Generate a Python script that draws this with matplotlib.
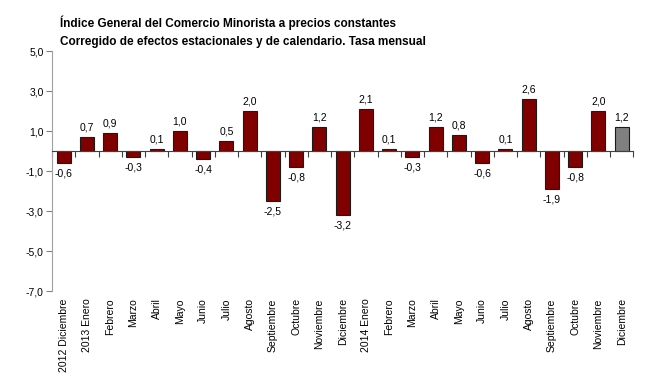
import matplotlib
matplotlib.use("Agg")
import matplotlib.pyplot as plt
import numpy as np

plt.rcParams['font.family'] = ['Liberation Sans', 'DejaVu Sans']

# Datos: tasa mensual, corregido de efectos estacionales y de calendario
meses = ["2012 Diciembre", "2013 Enero", "Febrero", "Marzo", "Abril", "Mayo",
         "Junio", "Julio", "Agosto", "Septiembre", "Octubre", "Noviembre",
         "Diciembre", "2014 Enero", "Febrero", "Marzo", "Abril", "Mayo",
         "Junio", "Julio", "Agosto", "Septiembre", "Octubre", "Noviembre",
         "Diciembre"]
tasa = [-0.6, 0.7, 0.9, -0.3, 0.1, 1.0, -0.4, 0.5, 2.0, -2.5, -0.8, 1.2,
        -3.2, 2.1, 0.1, -0.3, 1.2, 0.8, -0.6, 0.1, 2.6, -1.9, -0.8, 2.0, 1.2]
y_ticks = [5, 3, 1, -1, -3, -5, -7]

x = np.arange(len(meses))
colores = ['#800000'] * (len(meses) - 1) + ['#808080']

fig = plt.figure(figsize=(6.72, 3.78), dpi=100)
ax = fig.add_axes([0.0774, 0.230, 0.865, 0.635])

ax.bar(x, tasa, width=0.6, color=colores, edgecolor='#1a1a1a', linewidth=0.8)

# Etiquetas de valor
for xi, v in zip(x, tasa):
    txt = f"{v:.1f}".replace('.', ',')
    if v >= 0:
        ax.text(xi, v + 0.25, txt, ha='center', va='bottom', fontsize=7.5)
    else:
        ax.text(xi, v - 0.25, txt, ha='center', va='top', fontsize=7.5)

ax.set_xlim(-0.5, len(meses) - 0.5)
ax.set_ylim(-7, 5)
ax.set_yticks(y_ticks)
ax.set_yticklabels([f"{t:.1f}".replace('.', ',') for t in y_ticks], fontsize=7.5)

for s in ['top', 'right']:
    ax.spines[s].set_visible(False)
ax.spines['left'].set_color('#a0a0a0')
ax.spines['bottom'].set_position(('data', 0))
ax.spines['bottom'].set_color('#404040')
ax.tick_params(axis='y', length=4, color='#808080', width=0.8, pad=2)

# Marcas del eje X entre categorias, sin etiquetas sobre el cero
ax.set_xticks(x)
ax.set_xticklabels([])
ax.tick_params(axis='x', which='major', length=0)
ax.set_xticks(np.arange(len(meses) + 1) - 0.5, minor=True)
ax.tick_params(axis='x', which='minor', length=4, color='#404040', width=0.8)

# Etiquetas de meses bajo el grafico
trans = ax.get_xaxis_transform()
for xi, m in zip(x, meses):
    ax.text(xi, -0.03, m, transform=trans, rotation=90, ha='center', va='top',
            fontsize=7.5)

fig.text(0.089, 0.94, "Índice General del Comercio Minorista a precios constantes",
         fontsize=8.5, fontweight='bold', va='center')
fig.text(0.089, 0.888, "Corregido de efectos estacionales y de calendario. Tasa mensual",
         fontsize=8.5, fontweight='bold', va='center')

fig.savefig("out.png", dpi=100)
